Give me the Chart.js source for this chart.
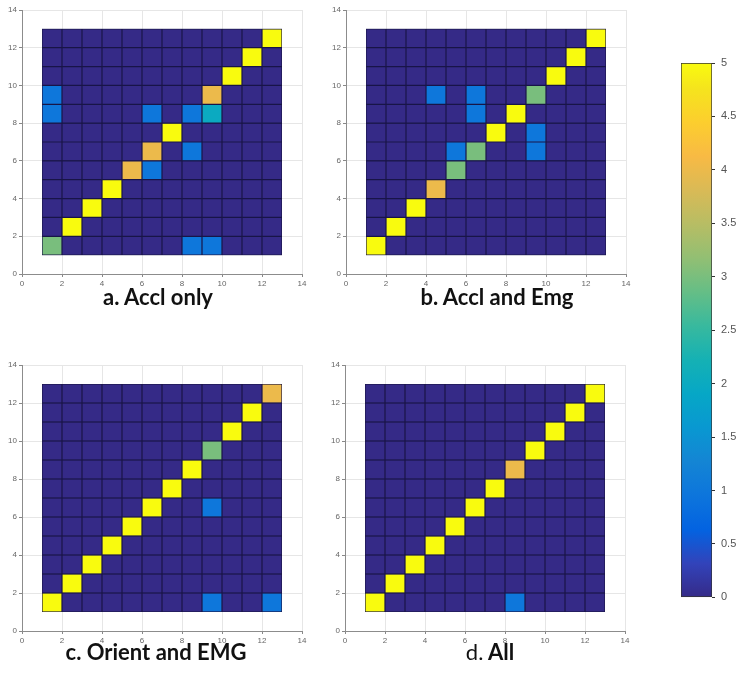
<!DOCTYPE html>
<html lang="en">
<head>
  <meta charset="UTF-8">
  <title>Confusion matrices by sensor set</title>
  <script src="https://cdn.jsdelivr.net/npm/chart.js"></script>
  <style>
    body {
      margin: 0;
      background: #fff;
      width: 740px;
      height: 691px;
      position: relative;
      overflow: hidden;
      font-family: 'Liberation Sans', sans-serif;
    }
    .panel {
      position: absolute;
    }
    .caption {
      position: absolute;
      font-family: 'Lato', 'Open Sans', sans-serif;
      font-weight: bold;
      font-size: 22px;
      color: #111;
      text-align: center;
      width: 260px;
      line-height: 26px;
    }
    .caption .plain {
      font-weight: normal;
    }
  </style>
</head>
<body>
  <canvas id="chartA" class="panel" style="left:0px; top:0px;" width="320" height="290"></canvas>
  <canvas id="chartB" class="panel" style="left:324px; top:0px;" width="320" height="290"></canvas>
  <canvas id="chartC" class="panel" style="left:0px; top:355px;" width="320" height="292"></canvas>
  <canvas id="chartD" class="panel" style="left:323px; top:355px;" width="320" height="292"></canvas>
  <canvas id="colorBar" class="panel" style="left:671px; top:50px;" width="69" height="560"></canvas>

  <div class="caption" style="left:28px; top:284px;">a. Accl only</div>
  <div class="caption" style="left:367px; top:284px;">b. Accl and Emg</div>
  <div class="caption" style="left:26px; top:639px;">c. Orient and EMG</div>
  <div class="caption" style="left:360px; top:639px;"><span class="plain">d.</span> All</div>

  <script>
    // confusion counts, rows listed top (class 12) to bottom (class 1), columns 1..12
    const accelOnly = [
      [0, 0, 0, 0, 0, 0, 0, 0, 0, 0, 0, 5],
      [0, 0, 0, 0, 0, 0, 0, 0, 0, 0, 5, 0],
      [0, 0, 0, 0, 0, 0, 0, 0, 0, 5, 0, 0],
      [1, 0, 0, 0, 0, 0, 0, 0, 4, 0, 0, 0],
      [1, 0, 0, 0, 0, 1, 0, 1, 2, 0, 0, 0],
      [0, 0, 0, 0, 0, 0, 5, 0, 0, 0, 0, 0],
      [0, 0, 0, 0, 0, 4, 0, 1, 0, 0, 0, 0],
      [0, 0, 0, 0, 4, 1, 0, 0, 0, 0, 0, 0],
      [0, 0, 0, 5, 0, 0, 0, 0, 0, 0, 0, 0],
      [0, 0, 5, 0, 0, 0, 0, 0, 0, 0, 0, 0],
      [0, 5, 0, 0, 0, 0, 0, 0, 0, 0, 0, 0],
      [3, 0, 0, 0, 0, 0, 0, 1, 1, 0, 0, 0]
    ];
    const accelEmg = [
      [0, 0, 0, 0, 0, 0, 0, 0, 0, 0, 0, 5],
      [0, 0, 0, 0, 0, 0, 0, 0, 0, 0, 5, 0],
      [0, 0, 0, 0, 0, 0, 0, 0, 0, 5, 0, 0],
      [0, 0, 0, 1, 0, 1, 0, 0, 3, 0, 0, 0],
      [0, 0, 0, 0, 0, 1, 0, 5, 0, 0, 0, 0],
      [0, 0, 0, 0, 0, 0, 5, 0, 1, 0, 0, 0],
      [0, 0, 0, 0, 1, 3, 0, 0, 1, 0, 0, 0],
      [0, 0, 0, 0, 3, 0, 0, 0, 0, 0, 0, 0],
      [0, 0, 0, 4, 0, 0, 0, 0, 0, 0, 0, 0],
      [0, 0, 5, 0, 0, 0, 0, 0, 0, 0, 0, 0],
      [0, 5, 0, 0, 0, 0, 0, 0, 0, 0, 0, 0],
      [5, 0, 0, 0, 0, 0, 0, 0, 0, 0, 0, 0]
    ];
    const orientEmg = [
      [0, 0, 0, 0, 0, 0, 0, 0, 0, 0, 0, 4],
      [0, 0, 0, 0, 0, 0, 0, 0, 0, 0, 5, 0],
      [0, 0, 0, 0, 0, 0, 0, 0, 0, 5, 0, 0],
      [0, 0, 0, 0, 0, 0, 0, 0, 3, 0, 0, 0],
      [0, 0, 0, 0, 0, 0, 0, 5, 0, 0, 0, 0],
      [0, 0, 0, 0, 0, 0, 5, 0, 0, 0, 0, 0],
      [0, 0, 0, 0, 0, 5, 0, 0, 1, 0, 0, 0],
      [0, 0, 0, 0, 5, 0, 0, 0, 0, 0, 0, 0],
      [0, 0, 0, 5, 0, 0, 0, 0, 0, 0, 0, 0],
      [0, 0, 5, 0, 0, 0, 0, 0, 0, 0, 0, 0],
      [0, 5, 0, 0, 0, 0, 0, 0, 0, 0, 0, 0],
      [5, 0, 0, 0, 0, 0, 0, 0, 1, 0, 0, 1]
    ];
    const allSensors = [
      [0, 0, 0, 0, 0, 0, 0, 0, 0, 0, 0, 5],
      [0, 0, 0, 0, 0, 0, 0, 0, 0, 0, 5, 0],
      [0, 0, 0, 0, 0, 0, 0, 0, 0, 5, 0, 0],
      [0, 0, 0, 0, 0, 0, 0, 0, 5, 0, 0, 0],
      [0, 0, 0, 0, 0, 0, 0, 4, 0, 0, 0, 0],
      [0, 0, 0, 0, 0, 0, 5, 0, 0, 0, 0, 0],
      [0, 0, 0, 0, 0, 5, 0, 0, 0, 0, 0, 0],
      [0, 0, 0, 0, 5, 0, 0, 0, 0, 0, 0, 0],
      [0, 0, 0, 5, 0, 0, 0, 0, 0, 0, 0, 0],
      [0, 0, 5, 0, 0, 0, 0, 0, 0, 0, 0, 0],
      [0, 5, 0, 0, 0, 0, 0, 0, 0, 0, 0, 0],
      [5, 0, 0, 0, 0, 0, 0, 1, 0, 0, 0, 0]
    ];

    const colorMin = 0;
    const colorMax = 5;

    // parula colormap, [position 0..1, r, g, b]
    const parulaStops = [
      [0 / 63, 53, 42, 135], [4 / 63, 50, 67, 186], [8 / 63, 3, 99, 225],
      [12 / 63, 13, 117, 220], [16 / 63, 20, 133, 212], [20 / 63, 9, 152, 209],
      [24 / 63, 6, 167, 198], [28 / 63, 21, 177, 180], [32 / 63, 56, 185, 158],
      [36 / 63, 101, 190, 134], [40 / 63, 146, 191, 115], [44 / 63, 183, 189, 100],
      [48 / 63, 217, 186, 86], [52 / 63, 248, 186, 68], [56 / 63, 252, 206, 46],
      [60 / 63, 245, 228, 29], [63 / 63, 249, 251, 14]
    ];

    const edgeColor = '#1a1648';

    function parula(t) {
      t = Math.min(1, Math.max(0, t));
      let i = 0;
      while (i < parulaStops.length - 2 && t > parulaStops[i + 1][0]) i++;
      const a = parulaStops[i], b = parulaStops[i + 1];
      const f = (t - a[0]) / (b[0] - a[0]);
      const c = [1, 2, 3].map(k => Math.round(a[k] + (b[k] - a[k]) * f));
      return `rgb(${c[0]}, ${c[1]}, ${c[2]})`;
    }

    // one floating bar per cell: x is the column centre, y spans the row
    function cellData(matrix) {
      const pts = [];
      matrix.forEach((row, i) => {
        const y0 = matrix.length - i;
        row.forEach((v, j) => {
          pts.push({ x: j + 1.5, y: [y0, y0 + 1], v });
        });
      });
      return pts;
    }

    // dark fill under the cells so the seams between them stay dark
    const cellBacking = {
      id: 'cellBacking',
      beforeDatasetsDraw(chart) {
        const bars = chart.getDatasetMeta(0).data;
        if (!bars.length) return;
        let x0 = Infinity, x1 = -Infinity, y0 = Infinity, y1 = -Infinity;
        bars.forEach(b => {
          const p = b.getProps(['x', 'y', 'base', 'width'], true);
          x0 = Math.min(x0, p.x - p.width / 2);
          x1 = Math.max(x1, p.x + p.width / 2);
          y0 = Math.min(y0, p.y, p.base);
          y1 = Math.max(y1, p.y, p.base);
        });
        const ctx = chart.ctx;
        ctx.save();
        ctx.fillStyle = edgeColor;
        ctx.fillRect(x0, y0, x1 - x0, y1 - y0);
        ctx.restore();
      }
    };

    const tickFont = { family: "'Liberation Sans', sans-serif", size: 8 };

    function axis(fitSize, horizontal) {
      return {
        type: 'linear',
        min: 0,
        max: 14,
        offset: false,
        ticks: { stepSize: 2, color: '#666', font: tickFont, padding: 2 },
        grid: { color: '#e6e6e6', offset: false, tickLength: 3, tickColor: '#888' },
        border: { color: '#8c8c8c' },
        afterFit: s => {
          if (horizontal) s.height = fitSize; else s.width = fitSize;
        }
      };
    }

    function drawMatrix(id, matrix) {
      new Chart(document.getElementById(id), {
        type: 'bar',
        data: {
          datasets: [{
            data: cellData(matrix),
            backgroundColor: ctx => parula((ctx.raw.v - colorMin) / (colorMax - colorMin)),
            borderColor: edgeColor,
            borderWidth: 0.6,
            borderSkipped: false,
            inflateAmount: 0,
            barPercentage: 1,
            categoryPercentage: 1
          }]
        },
        options: {
          responsive: false,
          animation: false,
          layout: { padding: { top: 10, right: 18, bottom: 0, left: 0 } },
          plugins: { legend: { display: false }, tooltip: { enabled: false } },
          scales: {
            x: axis(16, true),
            y: axis(22, false)
          }
        },
        plugins: [cellBacking]
      });
    }

    drawMatrix('chartA', accelOnly);
    drawMatrix('chartB', accelEmg);
    drawMatrix('chartC', orientEmg);
    drawMatrix('chartD', allSensors);

    // colour scale bar
    new Chart(document.getElementById('colorBar'), {
      type: 'bar',
      data: {
        labels: [''],
        datasets: [{
          data: [[colorMin, colorMax]],
          backgroundColor: ctx => {
            const area = ctx.chart.chartArea;
            if (!area) return null;
            const g = ctx.chart.ctx.createLinearGradient(0, area.bottom, 0, area.top);
            parulaStops.forEach(s => g.addColorStop(s[0], `rgb(${s[1]}, ${s[2]}, ${s[3]})`));
            return g;
          },
          borderColor: '#333',
          borderWidth: 1,
          borderSkipped: false,
          barPercentage: 1,
          categoryPercentage: 1
        }]
      },
      options: {
        responsive: false,
        animation: false,
        layout: { padding: { top: 13, right: 0, bottom: 12, left: 10 } },
        plugins: { legend: { display: false }, tooltip: { enabled: false } },
        scales: {
          x: { display: false },
          y: {
            position: 'right',
            min: colorMin,
            max: colorMax,
            ticks: {
              stepSize: 0.5,
              color: '#555',
              font: { family: "'Liberation Sans', sans-serif", size: 11 },
              padding: 6,
              callback: v => String(v)
            },
            grid: { drawOnChartArea: false, tickLength: 3, tickColor: '#333' },
            border: { display: false },
            afterFit: s => { s.width = 28; }
          }
        }
      }
    });
  </script>
</body>
</html>
